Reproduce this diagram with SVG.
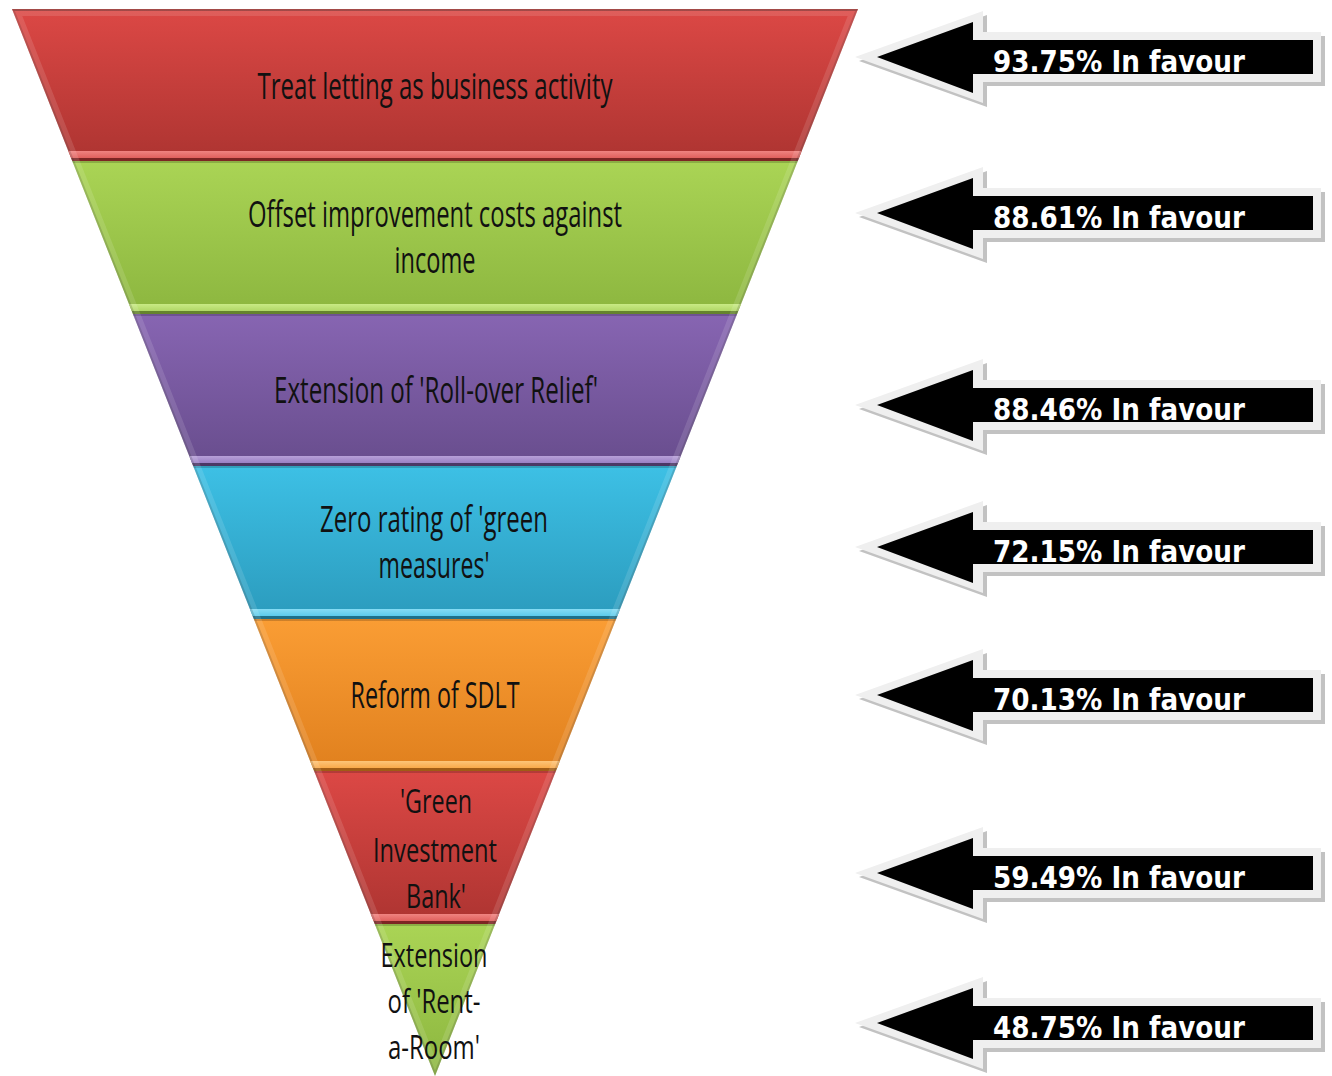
<svg xmlns="http://www.w3.org/2000/svg" xmlns:xlink="http://www.w3.org/1999/xlink" width="1332" height="1076" viewBox="0 0 1332 1076">
  <style>
    .label { font-family: "Open Sans", "Liberation Sans", sans-serif; font-size: 37px; fill: #111; text-anchor: middle; }
    .label.sm { font-size: 33px; }
    .pct { font-family: "DejaVu Sans", "Liberation Sans", sans-serif; font-weight: bold; font-size: 30px; fill: #fff; }
    .sep { fill: #000; opacity: 0.28; }
    .topline { fill: #000; opacity: 0.18; }
  </style>
  <defs>
    <clipPath id="funnelClip">
      <polygon points="12,9 858,9 435,1076"/>
    </clipPath>
    <linearGradient id="gRed" x1="0" y1="0" x2="0" y2="1">
      <stop offset="0" stop-color="#dc4845"/>
      <stop offset="1" stop-color="#ad3431"/>
    </linearGradient>
    <linearGradient id="gRedHi" x1="0" y1="0" x2="0" y2="1">
      <stop offset="0" stop-color="#f08380"/>
      <stop offset="1" stop-color="#e0605d"/>
    </linearGradient>
    <linearGradient id="gGreen" x1="0" y1="0" x2="0" y2="1">
      <stop offset="0" stop-color="#aad455"/>
      <stop offset="1" stop-color="#8cb63f"/>
    </linearGradient>
    <linearGradient id="gGreenHi" x1="0" y1="0" x2="0" y2="1">
      <stop offset="0" stop-color="#c8ea85"/>
      <stop offset="1" stop-color="#b0d766"/>
    </linearGradient>
    <linearGradient id="gPurple" x1="0" y1="0" x2="0" y2="1">
      <stop offset="0" stop-color="#8765b2"/>
      <stop offset="1" stop-color="#684d8d"/>
    </linearGradient>
    <linearGradient id="gPurpleHi" x1="0" y1="0" x2="0" y2="1">
      <stop offset="0" stop-color="#b7a0d8"/>
      <stop offset="1" stop-color="#9a7fc4"/>
    </linearGradient>
    <linearGradient id="gBlue" x1="0" y1="0" x2="0" y2="1">
      <stop offset="0" stop-color="#3dc0e5"/>
      <stop offset="1" stop-color="#2b9bbd"/>
    </linearGradient>
    <linearGradient id="gBlueHi" x1="0" y1="0" x2="0" y2="1">
      <stop offset="0" stop-color="#86dcf4"/>
      <stop offset="1" stop-color="#5ccbea"/>
    </linearGradient>
    <linearGradient id="gOrange" x1="0" y1="0" x2="0" y2="1">
      <stop offset="0" stop-color="#fa9d34"/>
      <stop offset="1" stop-color="#e0801e"/>
    </linearGradient>
    <linearGradient id="gOrangeHi" x1="0" y1="0" x2="0" y2="1">
      <stop offset="0" stop-color="#fdc478"/>
      <stop offset="1" stop-color="#f9a94a"/>
    </linearGradient>
    <!-- left-pointing block arrow: drop shadow, light rim, black body -->
    <g id="arrowShape">
      <polygon points="859,4 987,-42 987,-21 1325,-21 1325,29 987,29 987,50" fill="#c2c2c2"/>
      <polygon points="855,0 983,-46 983,-25 1321,-25 1321,25 983,25 983,46" fill="#efefef"/>
      <polygon points="877,0 973,-35 973,-17 1313,-17 1313,17 973,17 973,36" fill="#000"/>
    </g>
  </defs>

  <!-- funnel bands, top to bottom -->
  <g clip-path="url(#funnelClip)">
    <g id="band1">
      <rect x="0" y="9" width="870" height="152" fill="url(#gRed)"/>
      <rect class="topline" x="0" y="9" width="870" height="2"/>
      <rect x="0" y="151" width="870" height="7" fill="url(#gRedHi)"/>
      <rect class="sep" x="0" y="158" width="870" height="3"/>
      <text class="label" x="435" y="99" textLength="355" lengthAdjust="spacingAndGlyphs">Treat letting as business activity</text>
    </g>
    <g id="band2">
      <rect x="0" y="161" width="870" height="153" fill="url(#gGreen)"/>
      <rect class="topline" x="0" y="161" width="870" height="2"/>
      <rect x="0" y="304" width="870" height="7" fill="url(#gGreenHi)"/>
      <rect class="sep" x="0" y="311" width="870" height="3"/>
      <text class="label" x="435" y="227" textLength="374" lengthAdjust="spacingAndGlyphs">Offset improvement costs against</text>
      <text class="label" x="435" y="273" textLength="81" lengthAdjust="spacingAndGlyphs">income</text>
    </g>
    <g id="band3">
      <rect x="0" y="314" width="870" height="152" fill="url(#gPurple)"/>
      <rect class="topline" x="0" y="314" width="870" height="2"/>
      <rect x="0" y="456" width="870" height="7" fill="url(#gPurpleHi)"/>
      <rect class="sep" x="0" y="463" width="870" height="3"/>
      <text class="label" x="436" y="403" textLength="324" lengthAdjust="spacingAndGlyphs">Extension of 'Roll-over Relief'</text>
    </g>
    <g id="band4">
      <rect x="0" y="466" width="870" height="153" fill="url(#gBlue)"/>
      <rect class="topline" x="0" y="466" width="870" height="2"/>
      <rect x="0" y="609" width="870" height="7" fill="url(#gBlueHi)"/>
      <rect class="sep" x="0" y="616" width="870" height="3"/>
      <text class="label" x="434" y="532" textLength="228" lengthAdjust="spacingAndGlyphs">Zero rating of 'green</text>
      <text class="label" x="434" y="578" textLength="111" lengthAdjust="spacingAndGlyphs">measures'</text>
    </g>
    <g id="band5">
      <rect x="0" y="619" width="870" height="152" fill="url(#gOrange)"/>
      <rect class="topline" x="0" y="619" width="870" height="2"/>
      <rect x="0" y="761" width="870" height="7" fill="url(#gOrangeHi)"/>
      <rect class="sep" x="0" y="768" width="870" height="3"/>
      <text class="label" x="435" y="708" textLength="169" lengthAdjust="spacingAndGlyphs">Reform of SDLT</text>
    </g>
    <g id="band6">
      <rect x="0" y="771" width="870" height="153" fill="url(#gRed)"/>
      <rect class="topline" x="0" y="771" width="870" height="2"/>
      <rect x="0" y="914" width="870" height="7" fill="url(#gRedHi)"/>
      <rect class="sep" x="0" y="921" width="870" height="3"/>
      <text class="label sm" x="436" y="813" textLength="72" lengthAdjust="spacingAndGlyphs">'Green</text>
      <text class="label sm" x="435" y="862" textLength="124" lengthAdjust="spacingAndGlyphs">Investment</text>
      <text class="label sm" x="436" y="908" textLength="60" lengthAdjust="spacingAndGlyphs">Bank'</text>
    </g>
    <g id="band7">
      <rect x="0" y="924" width="870" height="152" fill="url(#gGreen)"/>
      <rect class="topline" x="0" y="924" width="870" height="2"/>
    </g>
    <!-- bevelled side edges -->
    <polygon points="12,9 858,9 435,1076" fill="none" stroke="#000" stroke-opacity="0.16" stroke-width="4"/>
    <polygon points="12,9 858,9 435,1076" fill="none" stroke="#fff" stroke-opacity="0.12" stroke-width="14"/>
  </g>
  <!-- last band's text overflows the funnel tip -->
  <g id="band7-text">
    <text class="label sm" x="434" y="967" textLength="107" lengthAdjust="spacingAndGlyphs">Extension</text>
    <text class="label sm" x="434" y="1013" textLength="93" lengthAdjust="spacingAndGlyphs">of 'Rent-</text>
    <text class="label sm" x="434" y="1059" textLength="92" lengthAdjust="spacingAndGlyphs">a-Room'</text>
  </g>

  <!-- result arrows pointing at the bands -->
  <g id="arrows">
    <g id="arrow1">
      <use href="#arrowShape" transform="translate(0,57)"/>
      <text class="pct" x="993" y="72" textLength="252" lengthAdjust="spacingAndGlyphs">93.75% In favour</text>
    </g>
    <g id="arrow2">
      <use href="#arrowShape" transform="translate(0,213)"/>
      <text class="pct" x="993" y="228" textLength="252" lengthAdjust="spacingAndGlyphs">88.61% In favour</text>
    </g>
    <g id="arrow3">
      <use href="#arrowShape" transform="translate(0,405)"/>
      <text class="pct" x="993" y="420" textLength="252" lengthAdjust="spacingAndGlyphs">88.46% In favour</text>
    </g>
    <g id="arrow4">
      <use href="#arrowShape" transform="translate(0,547)"/>
      <text class="pct" x="993" y="562" textLength="252" lengthAdjust="spacingAndGlyphs">72.15% In favour</text>
    </g>
    <g id="arrow5">
      <use href="#arrowShape" transform="translate(0,695)"/>
      <text class="pct" x="993" y="710" textLength="252" lengthAdjust="spacingAndGlyphs">70.13% In favour</text>
    </g>
    <g id="arrow6">
      <use href="#arrowShape" transform="translate(0,873)"/>
      <text class="pct" x="993" y="888" textLength="252" lengthAdjust="spacingAndGlyphs">59.49% In favour</text>
    </g>
    <g id="arrow7">
      <use href="#arrowShape" transform="translate(0,1023)"/>
      <text class="pct" x="993" y="1038" textLength="252" lengthAdjust="spacingAndGlyphs">48.75% In favour</text>
    </g>
  </g>
</svg>
